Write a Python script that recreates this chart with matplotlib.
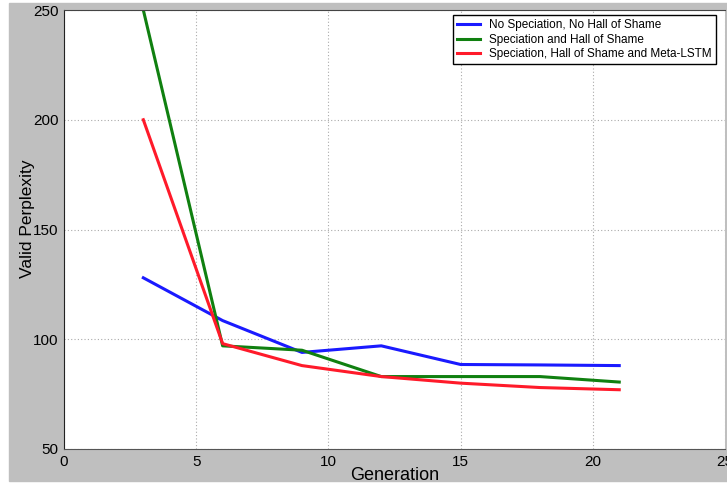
import matplotlib
matplotlib.use("Agg")
import matplotlib.pyplot as plt
from matplotlib.patches import Rectangle

generations = [3, 6, 9, 12, 15, 18, 21]
no_speciation = [128, 108.5, 94, 97, 88.5, 88.3, 88]
speciation_hos = [250, 97, 95, 83, 83, 83, 80.5]
speciation_hos_meta = [200, 98, 88, 83, 80, 78, 77]

labels = ["No Speciation, No Hall of Shame",
          "Speciation and Hall of Shame",
          "Speciation, Hall of Shame and Meta-LSTM"]
colors = ["#1a1aff", "#108010", "#ff1a2a"]

plt.rcParams["font.family"] = ["Liberation Sans", "DejaVu Sans"]

fig = plt.figure(figsize=(7.27, 4.83), dpi=100)
fig.patches.append(Rectangle((9 / 727, 2 / 483), 1, 1 - 5 / 483,
                             transform=fig.transFigure, color="#bfbfbf", zorder=-10))
ax = fig.add_axes([64 / 727, (483 - 449) / 483, 661 / 727, 439 / 483])

for ys, lab, c in zip([no_speciation, speciation_hos, speciation_hos_meta], labels, colors):
    ax.plot(generations, ys, color=c, lw=2.2, label=lab)

ax.set_xlim(0, 25)
ax.set_ylim(50, 250)
ax.set_xticks([0, 5, 10, 15, 20, 25])
ax.set_yticks([50, 100, 150, 200, 250])
ax.tick_params(length=0, labelsize=11, pad=4)
ax.grid(True, linestyle=(0, (1, 2)), color="#aaaaaa", lw=0.8)
ax.spines["right"].set_visible(False)
ax.spines["left"].set_color("#222222")
ax.spines["top"].set_color("#444444")
ax.spines["bottom"].set_color("#555555")

ax.set_xlabel("Generation", fontsize=13, labelpad=-1)
ax.set_ylabel("Valid Perplexity", fontsize=12.5)
ax.yaxis.set_label_coords(-0.044, 0.524)

leg = ax.legend(loc="upper right", fontsize=8.5, fancybox=False, framealpha=1,
                edgecolor="black", handlelength=1.9, handletextpad=0.8,
                borderpad=0.35, labelspacing=0.2, borderaxespad=0,
                bbox_to_anchor=(0.986, 0.988))
leg.get_frame().set_linewidth(1.0)

fig.savefig("out.png", dpi=100)
